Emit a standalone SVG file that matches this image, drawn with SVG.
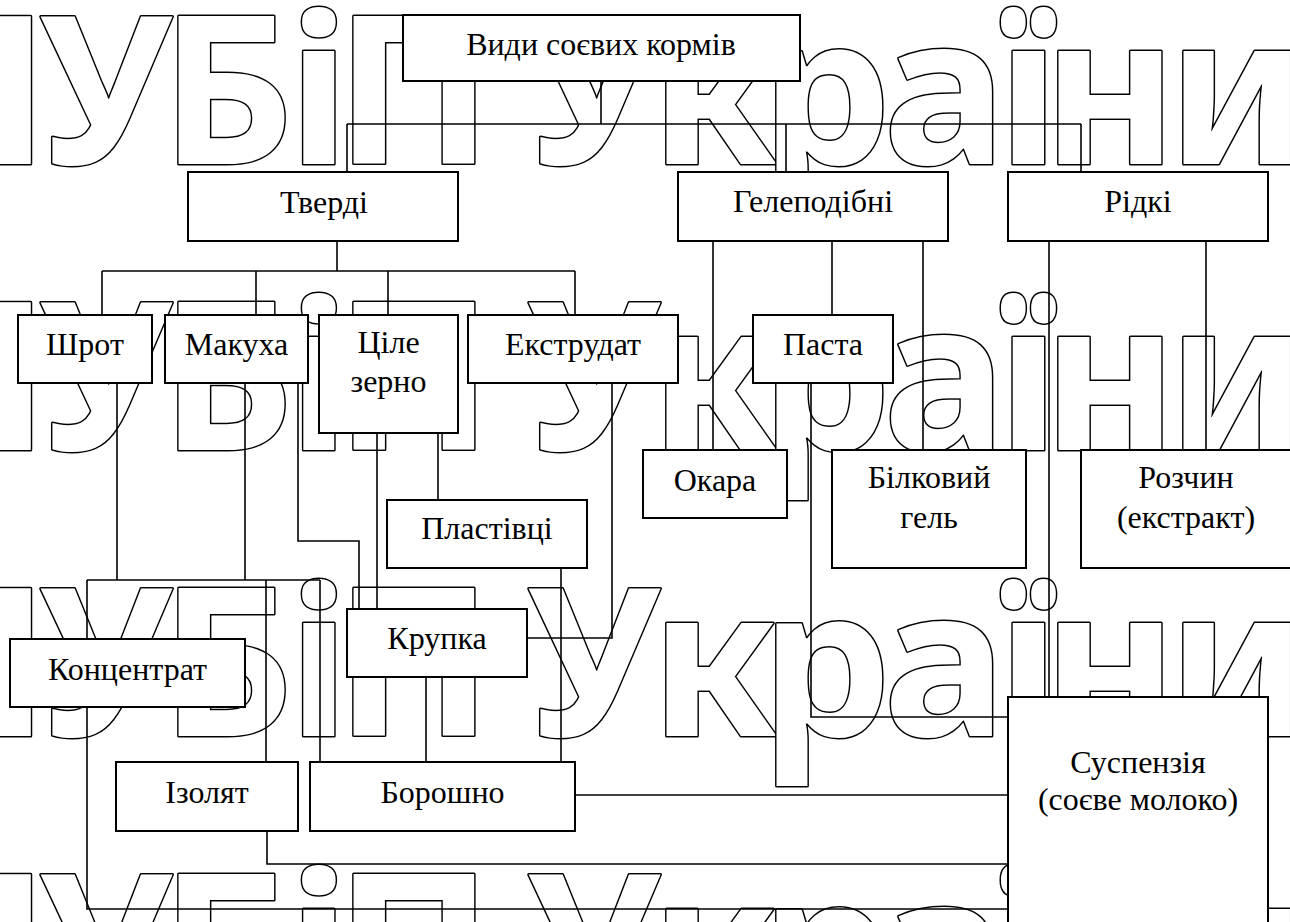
<svg xmlns="http://www.w3.org/2000/svg" width="1290" height="922" viewBox="0 0 1290 922">
<style>
.wm{font-family:"Noto Sans","Open Sans","DejaVu Sans",sans-serif;font-weight:700;font-size:207px;fill:#fff;stroke:#000;stroke-width:3;stroke-linejoin:round;paint-order:stroke}
.box{fill:#fff;stroke:#000;stroke-width:2}
.ln{fill:none;stroke:#000;stroke-width:1.6}
.t{font-family:"Liberation Serif","Times New Roman",serif;font-size:32px;fill:#000;text-anchor:middle}
</style>
<rect width="1290" height="922" fill="#fff"/>
<g id="watermark">
<text class="wm" x="-110 39 160 287 335 460 527 650 760 883 996 1042 1167" y="164">НУБіП України</text>
<text class="wm" x="-110 39 160 287 335 460 527 650 760 883 996 1042 1167" y="450">НУБіП України</text>
<text class="wm" x="-110 39 160 287 335 460 527 650 760 883 996 1042 1167" y="736">НУБіП України</text>
<text class="wm" x="-110 39 160 287 335 460 527 650 760 883 996 1042 1167" y="1022">НУБіП України</text>
</g>
<g id="connectors" class="ln">
<path d="M601 81V124M347 124H1081M347 124V172M786 124V172M1081 124V172"/>
<path d="M337 241V271M102 271H575M102 271V315M256 271V315M388 271V315M575 271V315"/>
<path d="M713 241V450M832 241V315M923 241V450"/>
<path d="M1049 241V697M1206 241V450"/>
<path d="M117 383V580M245 383V580M87 580H320M87 580V909H1008M266 580V762M320 580V762"/>
<path d="M298 383V541H359V609"/>
<path d="M377 433V609M438 433V500"/>
<path d="M561 568V762"/>
<path d="M612 383V638H527"/>
<path d="M426 677V762"/>
<path d="M575 795H1008"/>
<path d="M267 831V864H1008"/>
<path d="M811 383V717H1008"/>
</g>
<g id="n-vydy"><rect class="box" x="403" y="15" width="397" height="66"/><text class="t" x="601" y="55">Види соєвих кормів</text></g>
<g id="n-tverdi"><rect class="box" x="188" y="172" width="270" height="69"/><text class="t" x="324" y="213">Тверді</text></g>
<g id="n-gele"><rect class="box" x="678" y="172" width="270" height="69"/><text class="t" x="813" y="212">Гелеподібні</text></g>
<g id="n-ridki"><rect class="box" x="1008" y="172" width="260" height="69"/><text class="t" x="1138" y="212">Рідкі</text></g>
<g id="n-shrot"><rect class="box" x="18" y="315" width="134" height="68"/><text class="t" x="85" y="355">Шрот</text></g>
<g id="n-makukha"><rect class="box" x="165" y="315" width="143" height="68"/><text class="t" x="236.5" y="355">Макуха</text></g>
<g id="n-zerno"><rect class="box" x="319" y="315" width="139" height="118"/><text class="t" x="388.5" y="353">Ціле</text><text class="t" x="388.5" y="392">зерно</text></g>
<g id="n-ekstrudat"><rect class="box" x="468" y="315" width="210" height="68"/><text class="t" x="573" y="355">Екструдат</text></g>
<g id="n-pasta"><rect class="box" x="753" y="315" width="140" height="68"/><text class="t" x="823" y="355">Паста</text></g>
<g id="n-okara"><rect class="box" x="643" y="450" width="144" height="68"/><text class="t" x="715" y="491">Окара</text></g>
<g id="n-gel"><rect class="box" x="832" y="450" width="194" height="118"/><text class="t" x="929" y="488">Білковий</text><text class="t" x="929" y="528">гель</text></g>
<g id="n-rozchyn"><rect class="box" x="1081" y="450" width="210" height="118"/><text class="t" x="1186" y="488">Розчин</text><text class="t" x="1186" y="528">(екстракт)</text></g>
<g id="n-plastivtsi"><rect class="box" x="387" y="500" width="200" height="68"/><text class="t" x="487" y="539">Пластівці</text></g>
<g id="n-krupka"><rect class="box" x="347" y="609" width="180" height="68"/><text class="t" x="437" y="649">Крупка</text></g>
<g id="n-kontsentrat"><rect class="box" x="10" y="639" width="235" height="68"/><text class="t" x="127.5" y="680">Концентрат</text></g>
<g id="n-izolyat"><rect class="box" x="116" y="762" width="182" height="69"/><text class="t" x="207" y="803">Ізолят</text></g>
<g id="n-boroshno"><rect class="box" x="310" y="762" width="265" height="69"/><text class="t" x="442.5" y="803">Борошно</text></g>
<g id="n-suspenziya"><rect class="box" x="1008" y="697" width="260" height="240"/><text class="t" x="1138" y="773">Суспензія</text><text class="t" x="1138" y="810">(соєве молоко)</text></g>
</svg>
